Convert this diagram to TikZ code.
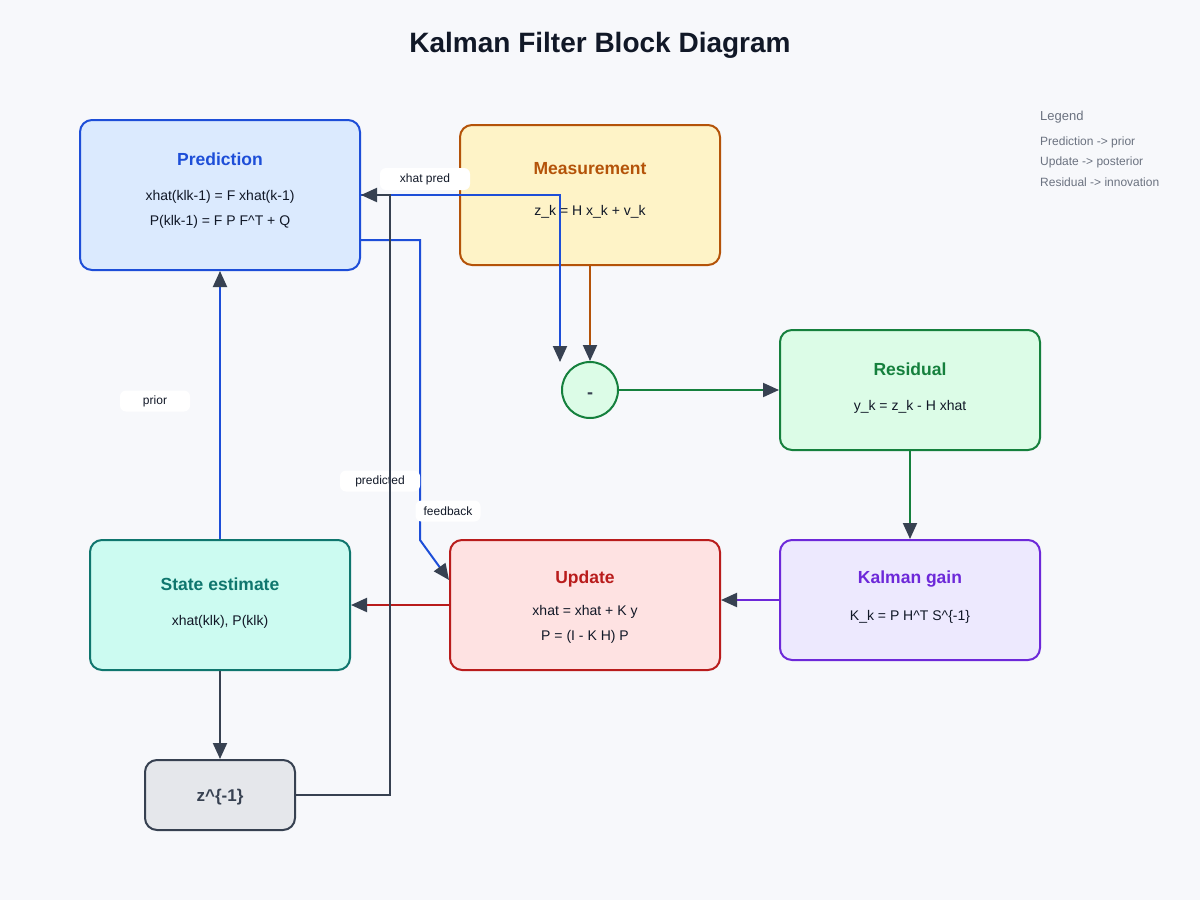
\documentclass[tikz,border=0pt]{standalone}
\usepackage{fontspec}
\setmainfont{Liberation Sans}
\usetikzlibrary{arrows.meta}
\definecolor{bgc}{HTML}{F7F8FB}
\definecolor{inkc}{HTML}{111827}
\definecolor{tipc}{HTML}{374151}
\definecolor{legc}{HTML}{6B7280}
\definecolor{predf}{HTML}{DBEAFE}\definecolor{predc}{HTML}{1D4ED8}
\definecolor{measf}{HTML}{FEF3C7}\definecolor{measc}{HTML}{B45309}
\definecolor{resf}{HTML}{DCFCE7}\definecolor{resc}{HTML}{15803D}
\definecolor{kalf}{HTML}{EDE9FE}\definecolor{kalc}{HTML}{6D28D9}
\definecolor{updf}{HTML}{FEE2E2}\definecolor{updc}{HTML}{B91C1C}
\definecolor{stf}{HTML}{CCFBF1}\definecolor{stc}{HTML}{0F766E}
\definecolor{zf}{HTML}{E5E7EB}\definecolor{zc}{HTML}{374151}
\tikzset{
  box/.style={draw, line width=2pt, rounded corners=12pt, inner sep=0pt},
  ttl/.style={font=\fontsize{17.5}{20}\selectfont\bfseries, inner sep=0pt, anchor=center},
  bodytxt/.style={font=\fontsize{14}{16}\selectfont, text=inkc, inner sep=0pt, anchor=center, yshift=-1.5pt},
  pill/.style={fill=white, rounded corners=6pt, inner sep=0pt, font=\fontsize{12}{14}\selectfont, text=inkc},
  legtxt/.style={font=\fontsize{12}{14}\selectfont, text=legc, inner sep=0pt, anchor=west, yshift=-1pt},
  conn/.style={line width=2pt, -{Triangle[length=16pt,width=14pt,color=tipc]}},
}
\begin{document}
\begin{tikzpicture}[x=1pt,y=-1pt]
\useasboundingbox[fill=bgc] (0,0) rectangle (1200,900);
% title
\node[font=\fontsize{28}{32}\selectfont\bfseries, text=inkc, inner sep=0pt] (title) at (600,45) {Kalman Filter Block Diagram};
% legend
\node[font=\fontsize{13}{15}\selectfont, text=legc, inner sep=0pt, anchor=west] (legT) at (1040,117) {Legend};
\node[legtxt] (leg1) at (1040,141) {Prediction -> prior};
\node[legtxt] (leg2) at (1040,161) {Update -> posterior};
\node[legtxt] (leg3) at (1040,181) {Residual -> innovation};
% boxes
\node[box, fill=predf, draw=predc, minimum width=280pt, minimum height=150pt] (pred) at (220,195) {};
\node[ttl, text=predc] (predT) at (220,159) {Prediction};
\node[bodytxt] (predA) at (220,195) {xhat(klk-1) = F xhat(k-1)};
\node[bodytxt] (predB) at (220,220) {P(klk-1) = F P F\^{}T + Q};

\node[box, fill=measf, draw=measc, minimum width=260pt, minimum height=140pt] (meas) at (590,195) {};
\node[ttl, text=measc] (measT) at (590,169) {Measurement};
\node[bodytxt] (measA) at (590,210) {z\_k = H x\_k + v\_k};

\node[circle, draw=resc, fill=resf, line width=2pt, minimum size=56pt, inner sep=0pt] (minus) at (590,390) {};
\node[font=\fontsize{18}{20}\selectfont\bfseries, text=zc, inner sep=0pt, yshift=-5.5pt] (minusT) at (590,390) {-};

\node[box, fill=resf, draw=resc, minimum width=260pt, minimum height=120pt] (res) at (910,390) {};
\node[ttl, text=resc] (resT) at (910,369) {Residual};
\node[bodytxt] (resA) at (910,405) {y\_k = z\_k - H xhat};

\node[box, fill=kalf, draw=kalc, minimum width=260pt, minimum height=120pt] (kal) at (910,600) {};
\node[ttl, text=kalc] (kalT) at (910,579) {Kalman gain};
\node[bodytxt] (kalA) at (910,615) {K\_k = P H\^{}T S\^{}\{-1\}};

\node[box, fill=updf, draw=updc, minimum width=270pt, minimum height=130pt] (upd) at (585,605) {};
\node[ttl, text=updc] (updT) at (585,579) {Update};
\node[bodytxt] (updA) at (585,610) {xhat = xhat + K y};
\node[bodytxt] (updB) at (585,635) {P = (I - K H) P};

\node[box, fill=stf, draw=stc, minimum width=260pt, minimum height=130pt] (st) at (220,605) {};
\node[ttl, text=stc] (stT) at (220,584) {State estimate};
\node[bodytxt] (stA) at (220,620) {xhat(klk), P(klk)};

\node[box, fill=zf, draw=zc, minimum width=150pt, minimum height=70pt] (zinv) at (220,795) {};
\node[font=\fontsize{17}{20}\selectfont\bfseries, text=zc, inner sep=0pt, yshift=-2pt] (zinvT) at (220,795) {z\^{}\{-1\}};

% connectors
\coordinate (mB) at (560,362);
\draw[conn, draw=measc] (meas.south) -- (minus.north);
\draw[conn, draw=predc] (pred.east) -- (560,195) -- (mB);
\draw[conn, draw=predc] ([yshift=-45pt]pred.east) -- (420,240) -- (420,540) -- ([yshift=25pt]upd.west);
\draw[conn, draw=resc] (minus.east) -- (res.west);
\draw[conn, draw=resc] (res.south) -- (kal.north);
\draw[conn, draw=kalc] (kal.west) -- (kal.west -| upd.east);
\draw[conn, draw=updc] (upd.west) -- (upd.west -| st.east);
\draw[conn, draw=predc] (st.north) -- (pred.south);
\draw[conn, draw=zc] (st.south) -- (zinv.north);
% labels
\node[pill, minimum width=90pt, minimum height=22pt] (lXp) at (425,179) {\raisebox{-2.5pt}{xhat pred}};
\node[pill, minimum width=70pt, minimum height=21pt] (lPr) at (155,401) {\raisebox{-2.5pt}{prior}};
\node[pill, minimum width=80pt, minimum height=21pt] (lPd) at (380,481) {\raisebox{-2.5pt}{predicted}};
\node[pill, minimum width=65pt, minimum height=21pt] (lFb) at (448,511) {\raisebox{-2.5pt}{feedback}};
% delay feedback
\draw[conn, draw=zc] (zinv.east) -- (390,795) -- (390,195) -- (pred.east);
\end{tikzpicture}
\end{document}
